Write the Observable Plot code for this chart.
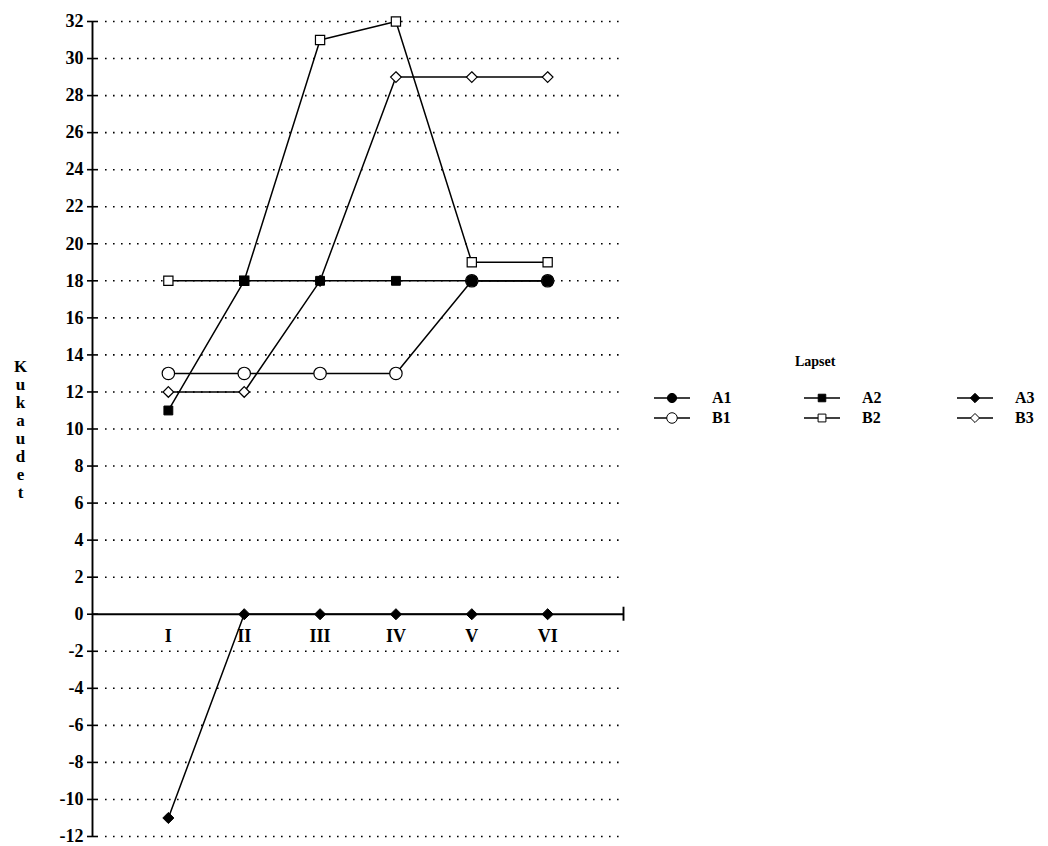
<!DOCTYPE html>
<html>
<head>
<meta charset="utf-8">
<script src="https://cdn.jsdelivr.net/npm/d3@7"></script>
<script src="https://cdn.jsdelivr.net/npm/@observablehq/plot@0.6"></script>
<style>
  body { margin: 0; background: #fff; }
  #wrap { position: relative; width: 1048px; height: 846px; font-family: "Liberation Serif", "Times New Roman", serif; font-weight: bold; color: #000; }
  #chart { position: absolute; left: 0; top: 0; }
  #legendTitle { position: absolute; left: 795px; top: 354px; font-size: 14px; }
  #legend { position: absolute; left: 654px; top: 388px; display: grid; grid-template-columns: 150px 153px 80px; grid-auto-rows: 20px; font-size: 16px; }
  #legend .item { display: flex; align-items: center; }
  #legend svg { margin-right: 22px; }
</style>
</head>
<body>
<div id="wrap">
  <div id="chart"></div>
  <div id="legendTitle"></div>
  <div id="legend"></div>
</div>
<script>
// Measurement rounds (x axis) and the y-axis tick values
const categories = ["I", "II", "III", "IV", "V", "VI"];
const yTicks = [-12, -10, -8, -6, -4, -2, 0, 2, 4, 6, 8, 10, 12, 14, 16, 18, 20, 22, 24, 26, 28, 30, 32];
const yLabel = "Kukaudet";
const legendTitle = "Lapset";

// One value per round for each child (null = no observation)
const seriesNames = ["A1", "A2", "A3", "B1", "B2", "B3"];
const A1 = [null, null, null, null, 18, 18];
const A2 = [11, 18, 18, 18, 18, 18];
const A3 = [-11, 0, 0, 0, 0, 0];
const B1 = [13, 13, 13, 13, 18, 18];
const B2 = [18, 18, 31, 32, 19, 19];
const B3 = [12, 12, 18, 29, 29, 29];

const seriesValues = { A1, A2, A3, B1, B2, B3 };
const seriesSymbol = { A1: "circle", A2: "square", A3: "diamond2", B1: "circle", B2: "square", B3: "diamond2" };
const seriesFilled = { A1: true, A2: true, A3: true, B1: false, B2: false, B3: false };
const seriesRadius = { A1: 5.4, A2: 5, A3: 5, B1: 6.2, B2: 5.2, B3: 4.8 };

const rows = seriesNames.flatMap(s =>
  seriesValues[s].map((v, i) => ({ series: s, pos: i + 1, round: categories[i], value: v }))
);

// hollow markers underneath, filled markers on top
const markerOrder = ["B1", "B2", "B3", "A2", "A1", "A3"];
const markerMarks = markerOrder.map(s => Plot.dot(
  rows.filter(d => d.series === s && d.value != null),
  {
    x: "pos", y: "value",
    symbol: seriesSymbol[s],
    r: seriesRadius[s],
    fill: seriesFilled[s] ? "#000" : "#fff",
    stroke: "#000",
    strokeWidth: seriesFilled[s] ? 1 : 1.2
  }
));

const chart = Plot.plot({
  width: 640,
  height: 846,
  marginLeft: 92,
  marginRight: 17,
  marginTop: 21,
  marginBottom: 10,
  x: { domain: [0, 7], axis: null },
  y: { domain: [-12, 32], axis: null },
  style: { fontFamily: "'Liberation Serif', 'Times New Roman', serif", fontWeight: "bold", fontSize: "18px", background: "#fff", color: "#000", overflow: "visible" },
  marks: [
    // dotted horizontal gridlines
    Plot.ruleY(yTicks.filter(t => t !== 0), {
      x1: 0, x2: 7, insetLeft: 13,
      stroke: "#000", strokeWidth: 1.6, strokeDasharray: "1.6 6.4"
    }),
    // y axis line with crossing tick marks
    Plot.ruleX([0], { y1: -12, y2: 32, stroke: "#000", strokeWidth: 1.9 }),
    Plot.ruleY(yTicks, { x1: 0, x2: 0, insetLeft: -5, insetRight: -6, stroke: "#000", strokeWidth: 1.6 }),
    Plot.axisY({
      ticks: yTicks, tickSize: 0, tickPadding: 9, label: null,
      tickFormat: d => String(d), fontSize: 18, fontWeight: "bold"
    }),
    // x axis along zero with an end tick
    Plot.ruleY([0], { x1: 0, x2: 7, stroke: "#000", strokeWidth: 1.9 }),
    Plot.ruleX([7], { y1: 0, y2: 0, insetTop: -7, insetBottom: -7, stroke: "#000", strokeWidth: 1.9 }),
    Plot.text(categories, {
      x: (d, i) => i + 1, y: () => 0, dy: 22, text: d => d,
      fontSize: 18, fontWeight: "bold"
    }),
    // vertical, letter-stacked axis title
    Plot.text([yLabel], {
      frameAnchor: "left", dx: -72, text: d => d.split("").join("\n"),
      lineHeight: 1.06, fontSize: 17, fontWeight: "bold", textAnchor: "middle"
    }),
    // series lines
    Plot.line(rows, { x: "pos", y: "value", z: "series", stroke: "#000", strokeWidth: 1.5 }),
    ...markerMarks
  ]
});
document.getElementById("chart").append(chart);

// legend
document.getElementById("legendTitle").textContent = legendTitle;
const legend = document.getElementById("legend");
const legendOrder = ["A1", "A2", "A3", "B1", "B2", "B3"];
const symbolTypes = { circle: d3.symbolCircle, square: d3.symbolSquare, diamond2: d3.symbolDiamond2 };
for (const s of legendOrder) {
  const item = document.createElement("div");
  item.className = "item";
  const svg = d3.create("svg").attr("width", 36).attr("height", 14);
  svg.append("line").attr("x1", 0).attr("x2", 36).attr("y1", 7).attr("y2", 7)
    .attr("stroke", "#000").attr("stroke-width", 1.4);
  const r = seriesRadius[s] * 0.85;
  svg.append("path")
    .attr("transform", "translate(18,7)")
    .attr("d", d3.symbol(symbolTypes[seriesSymbol[s]], Math.PI * r * r)())
    .attr("fill", seriesFilled[s] ? "#000" : "#fff")
    .attr("stroke", "#000").attr("stroke-width", 1);
  item.append(svg.node());
  const label = document.createElement("span");
  label.textContent = s;
  item.append(label);
  legend.append(item);
}
</script>
</body>
</html>
